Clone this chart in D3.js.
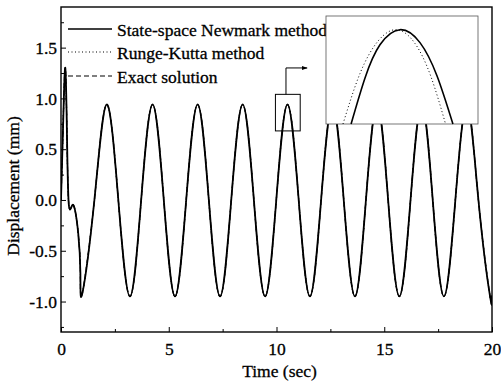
<!DOCTYPE html>
<html><head><meta charset="utf-8">
<script src="https://cdn.jsdelivr.net/npm/d3@7"></script>
<style>
html,body{margin:0;padding:0;background:#fff;}
svg{display:block;}
svg text{stroke:#000;stroke-width:0.3px;}
</style></head><body>
<svg id="chart" width="501" height="382"></svg>
<script>
// ---- data ----
const timeSec = [0, 0.1, 0.2, 0.28, 0.36, 0.5, 0.64, 0.8, 0.9, 0.99,
  1.55, 2.12, 2.66, 3.20, 3.72, 4.25, 4.77, 5.29, 5.81, 6.34, 6.86, 7.38, 7.90, 8.43, 8.95,
  9.47, 9.99, 10.51, 11.03, 11.55, 12.07, 12.60, 13.12, 13.64, 14.15, 14.67, 15.18, 15.70,
  16.22, 16.74, 17.25, 17.77, 18.30, 18.84, 19.37, 19.91, 20.0];
const newmarkDisp = [0.0, 0.75, 1.30, 0.6, -0.04, -0.06, -0.09, -0.33, -0.72, -0.92,
  0.0, 0.94, 0.0, -0.95, 0.0, 0.94, 0.0, -0.95, 0.0, 0.94, 0.0, -0.95, 0.0, 0.94, 0.0,
  -0.95, 0.0, 0.94, 0.0, -0.95, 0.0, 0.94, 0.0, -0.95, 0.0, 0.94, 0.0, -0.95,
  0.0, 0.94, 0.0, -0.95, 0.0, 0.94, 0.0, -0.95, -0.94];
const rungeKuttaDisp = [0.0, 0.75, 1.30, 0.6, -0.04, -0.06, -0.09, -0.33, -0.72, -0.92,
  0.0, 0.94, 0.0, -0.95, 0.0, 0.94, 0.0, -0.95, 0.0, 0.94, 0.0, -0.95, 0.0, 0.94, 0.0,
  -0.95, 0.0, 0.94, 0.0, -0.95, 0.0, 0.94, 0.0, -0.95, 0.0, 0.94, 0.0, -0.95,
  0.0, 0.94, 0.0, -0.95, 0.0, 0.94, 0.0, -0.95, -0.94];
const exactDisp = [0.0, 0.75, 1.30, 0.6, -0.04, -0.06, -0.09, -0.33, -0.72, -0.92,
  0.0, 0.94, 0.0, -0.95, 0.0, 0.94, 0.0, -0.95, 0.0, 0.94, 0.0, -0.95, 0.0, 0.94, 0.0,
  -0.95, 0.0, 0.94, 0.0, -0.95, 0.0, 0.94, 0.0, -0.95, 0.0, 0.94, 0.0, -0.95,
  0.0, 0.94, 0.0, -0.95, 0.0, 0.94, 0.0, -0.95, -0.94];

// inset (zoom on the peak near t = 10.5 s)
const insetTimeNewmark = [10.349, 10.404, 10.463, 10.542, 10.621, 10.688, 10.751];
const insetNewmark     = [0.800, 0.864, 0.910, 0.931, 0.913, 0.867, 0.800];
const insetTimeRK      = [10.317, 10.384, 10.455, 10.529, 10.601, 10.664, 10.722];
const insetRK          = [0.800, 0.870, 0.915, 0.931, 0.912, 0.866, 0.800];

const xTicks = [0, 5, 10, 15, 20];
const xMinorTicks = [2.5, 7.5, 12.5, 17.5];
const yTicks = [-1.0, -0.5, 0.0, 0.5, 1.0, 1.5];
const yMinorTicks = [-1.25, -0.75, -0.25, 0.25, 0.75, 1.25, 1.75];
const legendLabels = ["State-space Newmark method", "Runge-Kutta method", "Exact solution"];
const xTitle = "Time (sec)";
const yTitle = "Displacement (mm)";

// ---- pick an installed Times-like serif font ----
function pickFont() {
  const c = document.createElement("canvas").getContext("2d");
  const s = "State-space Newmark method 0123";
  c.font = "40px monospace"; const base = c.measureText(s).width;
  const cands = ["Liberation Serif", "Tinos", "Times New Roman", "Nimbus Roman", "DejaVu Serif", "Noto Serif"];
  for (const f of cands) {
    c.font = `40px "${f}", monospace`;
    if (Math.abs(c.measureText(s).width - base) > 0.5) return `"${f}"`;
  }
  return "serif";
}
const FONT = pickFont() + ", serif";

// ---- layout ----
const svg = d3.select("#chart");
const L = 61, R = 492, T = 7, B = 332;
const FS = 17.5;
const x = d3.scaleLinear([0, 20], [L, R]);
const y = d3.scaleLinear([-1.3, 1.9], [B, T]);

svg.append("defs").append("clipPath").attr("id", "clip")
  .append("rect").attr("x", L).attr("y", T).attr("width", R - L).attr("height", B - T);

const line = d3.line().x(d => x(d[0])).y(d => y(d[1])).curve(d3.curveNatural);
const zip = (a, b) => a.map((v, i) => [v, b[i]]);

const styles = [
  {dash: null, w: 1.8},
  {dash: "1,2.5", w: 1.2},
  {dash: "5,3", w: 1.2}
];
const seriesVals = [newmarkDisp, rungeKuttaDisp, exactDisp];

const plot = svg.append("g").attr("clip-path", "url(#clip)");
[2, 1, 0].forEach(i => {
  plot.append("path").attr("d", line(zip(timeSec, seriesVals[i])))
    .attr("fill", "none").attr("stroke", "#000")
    .attr("stroke-width", styles[i].w)
    .attr("stroke-dasharray", styles[i].dash);
});

// axes (inward ticks)
const fmtY = d => d.toFixed(1);
const gx = svg.append("g").attr("transform", `translate(0,${B})`)
  .call(d3.axisBottom(x).tickValues(xTicks).tickSize(-5).tickPadding(11).tickFormat(d3.format("d")));
const gxm = svg.append("g").attr("transform", `translate(0,${B})`)
  .call(d3.axisBottom(x).tickValues(xMinorTicks).tickSize(-3).tickFormat(""));
const gy = svg.append("g").attr("transform", `translate(${L},0)`)
  .call(d3.axisLeft(y).tickValues(yTicks).tickSize(-5).tickPadding(4).tickFormat(fmtY));
const gym = svg.append("g").attr("transform", `translate(${L},0)`)
  .call(d3.axisLeft(y).tickValues(yMinorTicks).tickSize(-3).tickFormat(""));
[gx, gxm, gy, gym].forEach(g => {
  g.attr("font-family", FONT).attr("font-size", FS);
  g.select(".domain").remove();
  g.selectAll("line").attr("stroke", "#000").attr("stroke-width", 1);
  g.selectAll("text").attr("fill", "#000");
});

// frame
svg.append("rect").attr("x", L).attr("y", T).attr("width", R - L).attr("height", B - T)
  .attr("fill", "none").attr("stroke", "#000").attr("stroke-width", 1.4);

// titles
svg.append("text").attr("x", (L + R) / 2 + 3).attr("y", 377)
  .attr("text-anchor", "middle").attr("font-family", FONT).attr("font-size", FS).text(xTitle);
svg.append("text").attr("transform", `translate(19,186) rotate(-90)`)
  .attr("text-anchor", "middle").attr("font-family", FONT).attr("font-size", FS).text(yTitle);

// legend
const legY = [29, 52, 76];
legendLabels.forEach((lab, i) => {
  svg.append("line").attr("x1", 68).attr("x2", 112).attr("y1", legY[i]).attr("y2", legY[i])
    .attr("stroke", "#000").attr("stroke-width", i === 0 ? 1.4 : 1.2)
    .attr("stroke-dasharray", styles[i].dash);
  svg.append("text").attr("x", 117).attr("y", legY[i] + 6.5)
    .attr("font-family", FONT).attr("font-size", FS).text(lab);
});

// zoom box + arrow
const boxT = [9.95, 11.1], boxV = [0.68, 1.04];
svg.append("rect").attr("x", x(boxT[0])).attr("y", y(boxV[1]))
  .attr("width", x(boxT[1]) - x(boxT[0])).attr("height", y(boxV[0]) - y(boxV[1]))
  .attr("fill", "none").attr("stroke", "#000").attr("stroke-width", 1);
svg.append("defs").append("marker").attr("id", "arr").attr("viewBox", "0 0 10 10")
  .attr("refX", 9).attr("refY", 5).attr("markerWidth", 6).attr("markerHeight", 6)
  .attr("orient", "auto").append("path").attr("d", "M0,1.5L10,5L0,8.5Z").attr("fill", "#000");
const arrowPts = [[10.44, 1.04], [10.44, 1.30], [11.42, 1.30]];
svg.append("path").attr("d", d3.line().x(d => x(d[0])).y(d => y(d[1]))(arrowPts))
  .attr("fill", "none").attr("stroke", "#000").attr("stroke-width", 1)
  .attr("marker-end", "url(#arr)");

// inset
const IL = 326, IR = 478, IT = 16, IB = 124;
const ix = d3.scaleLinear([10.25, 10.85], [IL, IR]);
const iy = d3.scaleLinear([0.80, 0.95], [IB, IT]);
svg.append("rect").attr("x", IL).attr("y", IT).attr("width", IR - IL).attr("height", IB - IT)
  .attr("fill", "#fff").attr("stroke", "#555").attr("stroke-width", 0.8);
const iline = d3.line().x(d => ix(d[0])).y(d => iy(d[1])).curve(d3.curveNatural);
svg.append("path").attr("d", iline(zip(insetTimeRK, insetRK)))
  .attr("fill", "none").attr("stroke", "#000").attr("stroke-width", 1)
  .attr("stroke-dasharray", "1,2.5");
svg.append("path").attr("d", iline(zip(insetTimeNewmark, insetNewmark)))
  .attr("fill", "none").attr("stroke", "#000").attr("stroke-width", 1.6);
</script>
</body></html>
